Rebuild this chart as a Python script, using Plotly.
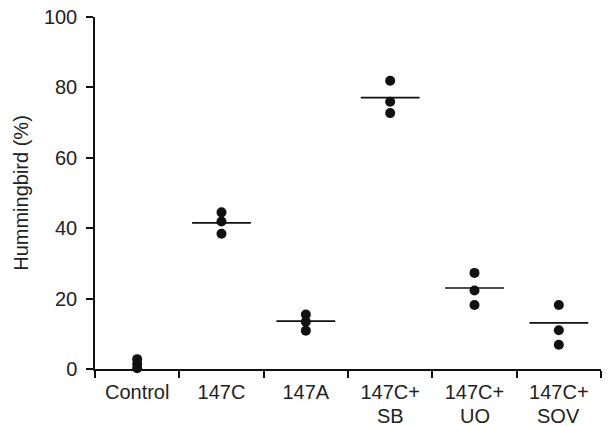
import plotly.graph_objects as go

categories = ["Control", "147C", "147A", "147C+\nSB", "147C+\nUO", "147C+\nSOV"]
rep1 = [2.8, 44.5, 15.5, 81.9, 27.3, 18.2]
rep2 = [1.4, 41.9, 13.4, 75.9, 22.3, 11.0]
rep3 = [0.2, 38.4, 10.9, 72.7, 18.2, 6.9]
means = [None, 41.5, 13.6, 77.1, 23.0, 13.1]
y_ticks = [0, 20, 40, 60, 80, 100]

first_lines = [c.split("\n")[0] for c in categories]
second_lines = [c.split("\n")[1] if "\n" in c else "" for c in categories]

fig = go.Figure()

xs, ys = [], []
for c, a, b, d in zip(categories, rep1, rep2, rep3):
    xs += [c, c, c]
    ys += [a, b, d]

fig.add_trace(go.Scatter(
    x=xs, y=ys, mode="markers",
    marker=dict(color="#111111", size=10, line=dict(width=0)),
    showlegend=False, cliponaxis=False,
))

fig.add_trace(go.Scatter(
    x=categories, y=means, mode="markers",
    marker=dict(symbol="line-ew", size=42, color="#111111",
                line=dict(width=1.6, color="#111111")),
    showlegend=False, cliponaxis=False,
))

fam = "Liberation Sans, Arial, sans-serif"
font = dict(family=fam, size=20, color="#222222")

for c, s in zip(categories, second_lines):
    if s:
        fig.add_annotation(x=c, y=0, xref="x", yref="paper", text=s,
                           showarrow=False, yanchor="top", yshift=-34,
                           font=font)

fig.update_layout(
    width=612, height=426,
    margin=dict(l=95, r=11, t=17, b=57),
    paper_bgcolor="white", plot_bgcolor="white",
    font=font,
    xaxis=dict(
        type="category", categoryorder="array", categoryarray=categories,
        tickvals=categories, ticktext=first_lines,
        range=[-0.5, 5.5], tickson="boundaries", automargin=False,
        showline=True, linecolor="#111111", linewidth=1.5,
        ticks="outside", ticklen=7, tickwidth=1.5, tickcolor="#111111",
        showgrid=False, zeroline=False, tickfont=font, fixedrange=True,
        ticklabelstandoff=4,
    ),
    yaxis=dict(
        range=[0, 100], tickvals=y_ticks, automargin=False,
        showline=True, linecolor="#111111", linewidth=1.5,
        ticks="outside", ticklen=7, tickwidth=1.5, tickcolor="#111111",
        showgrid=False, zeroline=False, tickfont=font, fixedrange=True,
        ticklabelstandoff=5,
        title=dict(text="Hummingbird (%)", font=font, standoff=10),
    ),
)

fig.write_html("out.html", config={"displayModeBar": False},
               post_script="document.body.style.margin='0';")
